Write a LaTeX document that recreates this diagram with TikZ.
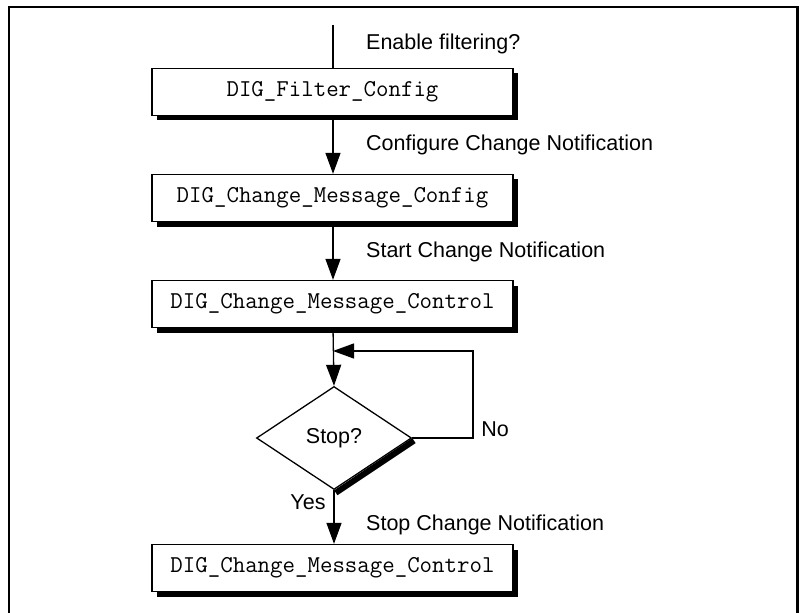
\documentclass[tikz,border=0pt]{standalone}
\usepackage{fontspec}
\setmainfont{Liberation Sans}
\usetikzlibrary{arrows.meta,shapes.geometric,shadows}
\begin{document}
\begin{tikzpicture}[x=1bp,y=-1bp,
  procbox/.style={draw=black, line width=1.3bp, fill=white, minimum width=361bp, minimum height=47bp, inner sep=0pt,
    font=\ttfamily\fontsize{24.2bp}{26bp}\selectfont,
    drop shadow={shadow xshift=5bp, shadow yshift=-5bp, fill=black, opacity=1}},
  lbl/.style={font=\fontsize{21.5bp}{24bp}\selectfont, inner sep=0pt},
  flow/.style={line width=1.3bp, -{Triangle[length=21bp,width=15bp]}},
  plain/.style={line width=1.3bp}]
\useasboundingbox (0,0) rectangle (800,613);
\draw[line width=2.6bp] (9,613) -- (9,7) -- (797.5,7) -- (797.5,613);

\coordinate (top) at (333,25);
\node[procbox] (b1) at (332.5,92) {DIG\_Filter\_Config};
\node[procbox] (b2) at (332.5,198) {DIG\_Change\_Message\_Config};
\node[procbox] (b3) at (332.5,304) {DIG\_Change\_Message\_Control};
\node[draw=black, line width=1.3bp, shape=diamond, minimum width=155bp, minimum height=103bp, inner sep=0pt,
  font=\fontsize{21.5bp}{24bp}\selectfont] (d) at (334,438) {Stop?};
\node[procbox] (b4) at (332.5,568) {DIG\_Change\_Message\_Control};

\draw[line width=6bp] ([shift={(1.8,2.6)}]d.east) -- ([shift={(1.8,2.6)}]d.south);

\coordinate (r1) at (473,351);
\coordinate (j) at (333,351);

\draw[plain] (top) -- (b1.north -| top);
\draw[flow] (b1.south -| top) -- (b2.north -| top);
\draw[flow] (b2.south -| top) -- (b3.north -| top);
\draw[flow] (b3.south -| top) -- (d.north);
\draw[flow] (d.east) -| (r1) -- (j);
\draw[flow] (d.south) -- (b4.north -| d.south);

\node[lbl, anchor=west] (l1) at (366,44) {Enable filtering?};
\node[lbl, anchor=west] (l2) at (366,145) {Configure Change Notification};
\node[lbl, anchor=west] (l3) at (366,252) {Start Change Notification};
\node[lbl, anchor=west] (l4) at (366,525) {Stop Change Notification};
\node[lbl] (no) at (495,429) {No};
\node[lbl] (yes) at (308,502) {Yes};
\end{tikzpicture}
\end{document}
